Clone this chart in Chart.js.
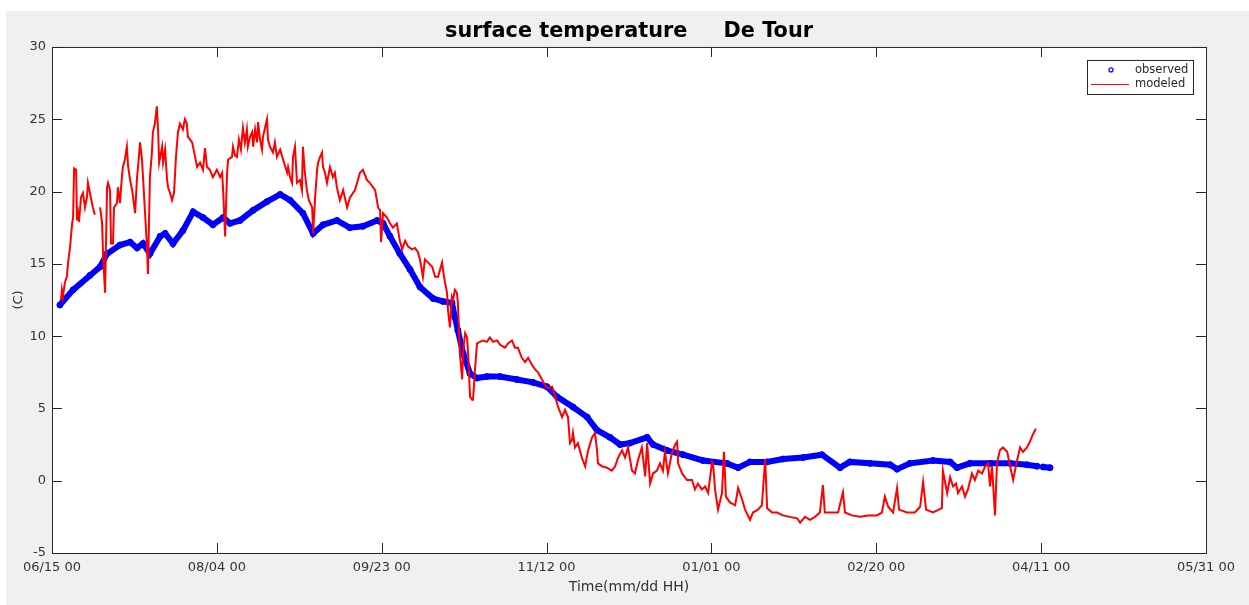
<!DOCTYPE html>
<html>
<head>
<meta charset="utf-8">
<title>surface temperature De Tour</title>
<script src="https://cdn.jsdelivr.net/npm/chart.js@4/dist/chart.umd.min.js"></script>
<style>
    html, body { margin: 0; padding: 0; background: #fff; }
    canvas { display: block; }
</style>
</head>
<body>
<canvas id="chart" width="1249" height="605"></canvas>
<script>
'use strict';

// days since 06/15 00
let tickLabels = ['06/15 00', '08/04 00', '09/23 00', '11/12 00', '01/01 00', '02/20 00', '04/11 00', '05/31 00'];

let obsDays = [2.4, 6.4, 11.5, 14.6, 16.7, 20.6, 23.7, 25.8, 27.6, 29.7, 32.8, 34.3, 36.7, 39.7, 42.8, 45.8, 48.8,
    51.9, 54.0, 57.0, 61.0, 65.2, 69.2, 72.2, 76.1, 79.2, 82.2, 86.4, 90.3, 94.3, 98.6, 100.4, 102.5, 105.5, 108.6,
    111.6, 115.6, 118.6, 121.3, 122.2, 123.1, 124.7, 126.8, 128.9, 131.9, 135.9, 141.0, 145.9, 150.1, 153.2, 158.0,
    162.3, 165.3, 169.2, 172.3, 175.3, 180.5, 182.3, 186.5, 191.4, 197.4, 204.7, 208.1, 211.7, 216.9, 221.7, 227.8,
    233.5, 239.0, 242.0, 248.1, 254.2, 256.3, 260.2, 267.2, 272.4, 274.5, 278.4, 284.5, 290.6, 295.7, 298.8, 299.7,
    300.6, 302.7];
let obsTemps = [12.15, 13.2, 14.2, 14.8, 15.7, 16.3, 16.5, 16.1, 16.4, 15.7, 16.9, 17.1, 16.4, 17.3, 18.6, 18.2, 17.7,
    18.2, 17.8, 18.0, 18.7, 19.3, 19.8, 19.4, 18.5, 17.1, 17.7, 18.0, 17.5, 17.6, 18.0, 17.8, 16.9, 15.7, 14.6,
    13.4, 12.6, 12.4, 12.3, 11.3, 10.4, 8.8, 7.4, 7.1, 7.2, 7.2, 7.0, 6.8, 6.5, 5.8, 5.1,
    4.4, 3.5, 3.0, 2.5, 2.6, 3.0, 2.5, 2.1, 1.8, 1.4, 1.2, 0.9, 1.3, 1.3, 1.5, 1.6,
    1.8, 0.9, 1.3, 1.2, 1.1, 0.8, 1.2, 1.4, 1.3, 0.9, 1.2, 1.2, 1.2, 1.1, 1.0, null,
    0.95, 0.9];

let modDays = [2.7, 3.0, 3.3, 3.9, 4.5, 4.9, 5.5, 6.1, 6.4, 6.7, 7.3, 7.6, 7.9, 8.2, 8.8, 9.4, 10.0, 10.6, 10.9, 11.5,
    12.4, 13.0, 13.8, 14.6, 15.2, 15.5, 16.1, 16.7, 17.0, 17.6, 17.9, 18.5, 18.8, 19.7, 20.0, 20.6, 21.2, 21.5, 22.1,
    22.7, 23.1, 23.7, 24.3, 24.6, 25.2, 25.8, 26.1, 26.7, 27.3, 27.6, 28.8, 29.1, 29.7, 30.3, 30.6, 31.2, 31.8, 32.2,
    32.5, 33.4, 33.7, 34.3, 34.9, 35.2, 35.8, 36.4, 37.0, 37.6, 38.2, 38.8, 39.7, 40.3, 40.9, 41.2, 42.5, 43.4, 44.0,
    44.9, 45.8, 46.4, 47.0, 47.9, 48.8, 50.0, 51.0, 51.6, 51.9, 52.5, 53.1, 53.4, 54.6, 54.9, 55.5, 56.1, 56.7, 57.3,
    57.9, 58.5, 59.1, 59.4, 60.1, 60.7, 61.0, 61.6, 62.2, 62.5, 63.1, 63.7, 64.0, 65.2, 65.5, 66.1, 67.0, 67.6, 68.2,
    69.2, 70.1, 71.3, 71.6, 72.2, 72.8, 73.1, 73.7, 74.3, 75.2, 75.8, 76.1, 76.7, 77.3, 77.9, 78.9, 79.2, 79.8, 80.4,
    80.7, 81.3, 81.9, 82.2, 82.8, 83.4, 84.3, 85.2, 85.8, 86.4, 87.3, 88.3, 89.5, 90.4, 91.9, 93.4, 94.3, 95.5, 96.4,
    98.0, 98.9, 99.5, 99.8, 100.4, 101.6, 102.5, 103.4, 104.6, 105.5, 106.2, 107.1, 108.0, 109.2, 110.1, 111.0, 111.6,
    112.5, 113.1, 114.0, 115.3, 116.2, 117.1, 118.3, 118.9, 119.8, 120.1, 120.7, 121.3, 121.6, 122.2, 122.8, 123.1,
    123.7, 124.4, 124.7, 125.3, 125.9, 126.2, 126.8, 127.4, 127.7, 128.3, 128.9, 129.8, 130.7, 131.9, 132.8, 133.8,
    135.0, 135.9, 137.4, 138.3, 139.5, 140.4, 141.3, 142.5, 143.5, 144.4, 145.6, 146.5, 147.4, 148.6, 149.5, 150.4,
    151.7, 152.6, 153.5, 154.7, 155.6, 156.5, 157.1, 157.7, 158.0, 158.6, 159.5, 160.7, 161.7, 162.6, 163.8, 164.7,
    165.3, 165.6, 166.8, 168.3, 169.8, 170.8, 171.7, 172.9, 173.8, 174.7, 175.9, 176.8, 177.7, 178.9, 179.9, 180.5,
    181.4, 182.3, 183.5, 184.4, 185.3, 185.9, 186.8, 188.0, 189.0, 189.6, 189.9, 191.1, 192.6, 194.1, 195.0, 195.9,
    197.1, 198.1, 199.0, 200.2, 200.5, 201.1, 202.0, 203.2, 203.8, 204.4, 205.6, 207.2, 208.1, 209.3, 210.2, 211.7,
    212.6, 214.1, 215.3, 216.3, 216.9, 218.4, 219.9, 221.7, 223.8, 226.0, 226.9, 228.4, 229.9, 231.4, 232.9, 233.8,
    234.4, 236.6, 238.4, 239.9, 240.5, 242.6, 245.1, 247.5, 250.2, 251.7, 252.6, 253.6, 255.1, 256.3, 256.9, 259.3,
    261.7, 263.3, 264.2, 265.1, 267.2, 269.9, 270.2, 271.5, 272.4, 273.3, 274.2, 274.8, 276.0, 276.9, 277.8, 279.0,
    279.9, 280.9, 282.1, 283.0, 283.9, 284.5, 285.1, 286.0, 286.6, 287.5, 288.4, 289.7, 290.6, 291.5, 292.7, 293.6,
    294.5, 295.7, 296.6, 297.5, 298.4];
let modTemps = [12.5, 13.2, 12.7, 13.7, 14.1, 15.1, 16.2, 17.8, 18.2, 21.6, 21.5, 18.0, 18.5, 17.9, 19.6, 19.9, 18.9,
    19.6, 20.6, 19.9, 18.9, 18.4, null, 18.9, 17.8, 15.5, 13.0, 20.3, 20.6, 20.1, 16.4, 16.4, 18.9, 19.2, 20.3, 19.2,
    21.0, 21.7, 22.2, 23.1, 21.7, 20.8, 20.1, 19.6, 18.5, 21.0, 21.7, 23.4, 22.2, 21.0, 16.2, 14.3, 21.0, 22.7, 24.1,
    24.7, 25.9, 24.1, 22.0, 23.1, 22.0, 22.9, 20.8, 20.3, 19.9, 19.4, 19.9, 22.4, 24.1, 24.7, 24.3, 25.0, 24.7, 23.8,
    23.4, 22.4, 21.7, 22.0, 21.5, 23.0, 21.7, 21.5, 21.0, 21.5, 21.0, 21.3, 20.1, 16.9, 21.3, 22.2, 22.4, 23.1, 22.5,
    22.4, 23.6, 22.9, 24.4, 23.4, 24.3, 23.1, 23.8, 24.1, 23.1, 24.3, 23.4, 24.8, 23.6, 22.9, 23.8, 25.0, 23.6, 23.1,
    22.7, 23.4, 22.4, 22.9, 22.2, 21.3, 21.7, 21.0, 20.6, 22.4, 23.1, 20.6, 20.8, 20.1, 23.1, 21.3, 20.1, 19.4, 18.9,
    17.1, 19.6, 21.5, 22.0, 22.4, 22.7, 21.7, 21.3, 20.6, 21.7, 21.0, 21.3, 20.3, 19.4, 20.1, 18.9, 19.6, 20.1, 21.3,
    21.5, 20.8, 20.6, 20.1, 18.9, 18.7, 16.5, 18.5, 18.2, 17.8, 17.5, 17.8, 16.6, 16.0, 16.6, 16.2, 16.0, 16.1, 15.8,
    15.3, 14.1, 15.3, 15.1, 14.8, 14.1, 14.1, 15.1, 14.1, 13.0, 11.8, 10.6, 12.7, 12.5, 13.2, 13.0, 12.3, 8.8, 7.0,
    9.0, 10.2, 9.9, 8.8, 5.8, 5.6, 5.6, 7.7, 9.5, 9.6, 9.7, 9.6, 9.9, 9.6, 9.7, 9.4, 9.2, 9.5, 9.7, 9.2, 9.2, 8.5, 8.2,
    8.5, 8.0, 7.7, 7.5, 7.0, 6.6, 6.4, 6.5, 5.8, 5.1, 4.4, 4.9, 4.4, 2.6, 2.8, 3.3, 2.3, 2.6, 1.6, 1.0, 2.1, 3.0, 3.3,
    2.1, 1.2, 1.0, 0.9, 0.7, 1.0, 1.6, 2.1, 1.6, 2.3, 0.7, 0.5, 1.4, 2.3, 0.3, 2.6, -0.2, 0.5, 0.7, 1.2, 0.7, 2.0, 0.5,
    1.9, 2.5, 2.7, 1.2, 0.5, 0.05, 0.05, -0.6, -0.2, -0.6, -0.4, -0.85, 1.3, 1.2, -0.6, -2.0, -0.85, 2.0, -1.1, -1.5,
    -1.7, -0.5, -1.3, -2.0, -2.7, -2.2, -2.0, -1.7, 1.5, -1.9, -2.2, -2.2, -2.4, -2.5, -2.6, -2.9, -2.5, -2.7, -2.5,
    -2.2, -0.3, -2.2, -2.2, -2.2, -0.8, -2.2, -2.4, -2.5, -2.4, -2.4, -2.2, -1.1, -1.8, -2.2, -0.5, -2.0, -2.2, -2.2,
    -1.8, -0.1, -2.0, -2.2, -1.9, 0.7, -0.85, 0.25, -0.4, -0.2, -0.85, -0.4, -1.1, -0.6, 0.5, 0.05, 0.7, 0.5, 1.0,
    1.2, -0.4, 1.0, -2.4, 1.2, 2.1, 2.3, 2.0, 1.0, 0.05, 1.4, 2.3, 2.0, 2.3, 2.7, 3.2, 3.6];

let axisColor = '#262626',
    fontFamily = "'DejaVu Sans', sans-serif";

function toPoints(days, temps) {
    return days.map(function (d, i) { return { x: d, y: temps[i] }; });
}

// grey figure background, white axes
let figurePlugin = {
    id: 'figure',
    beforeDraw: function (chart) {
        var ctx = chart.ctx, a = chart.chartArea;
        ctx.save();
        ctx.fillStyle = '#fff';
        ctx.fillRect(0, 0, chart.width, chart.height);
        ctx.fillStyle = '#f0f0f0';
        ctx.fillRect(6, 11, chart.width - 6, chart.height - 11);
        ctx.fillStyle = '#fff';
        ctx.fillRect(a.left, a.top, a.right - a.left, a.bottom - a.top);
        ctx.restore();
    },
    afterDatasetsDraw: function (chart) {
        var ctx = chart.ctx, a = chart.chartArea,
            xs = chart.scales.x, ys = chart.scales.y, len = 10;
        ctx.save();
        ctx.strokeStyle = axisColor;
        ctx.lineWidth = 1;
        ctx.beginPath();
        xs.ticks.forEach(function (t) {
            var px = Math.round(xs.getPixelForValue(t.value)) + 0.5;
            ctx.moveTo(px, a.bottom); ctx.lineTo(px, a.bottom - len);
            ctx.moveTo(px, a.top); ctx.lineTo(px, a.top + len);
        });
        ys.ticks.forEach(function (t) {
            var py = Math.round(ys.getPixelForValue(t.value)) + 0.5;
            ctx.moveTo(a.left, py); ctx.lineTo(a.left + len, py);
            ctx.moveTo(a.right, py); ctx.lineTo(a.right - len, py);
        });
        ctx.stroke();
        ctx.strokeRect(a.left + 0.5, a.top + 0.5, a.right - a.left, a.bottom - a.top);
        drawLegend(chart);
        ctx.restore();
    }
};

function drawLegend(chart) {
    var ctx = chart.ctx, a = chart.chartArea,
        sets = chart.data.datasets,
        w = 106, h = 34,
        x = a.right - 13 - w, y = a.top + 13;

    ctx.fillStyle = '#fff';
    ctx.fillRect(x, y, w, h);
    ctx.strokeStyle = axisColor;
    ctx.strokeRect(x + 0.5, y + 0.5, w, h);

    ctx.font = '11.5px ' + fontFamily;
    ctx.textBaseline = 'middle';
    ctx.textAlign = 'left';

    // observed marker
    ctx.strokeStyle = sets[0].borderColor;
    ctx.lineWidth = 1.2;
    ctx.beginPath();
    ctx.arc(x + 24, y + 10, 2, 0, Math.PI * 2);
    ctx.stroke();
    ctx.fillStyle = axisColor;
    ctx.fillText(sets[0].label, x + 48, y + 10);

    // modeled line
    ctx.strokeStyle = sets[1].borderColor;
    ctx.lineWidth = 1;
    ctx.beginPath();
    ctx.moveTo(x + 4, y + 24.5);
    ctx.lineTo(x + 42, y + 24.5);
    ctx.stroke();
    ctx.fillText(sets[1].label, x + 48, y + 24);
}

function drawChart() {
    var ctx = document.getElementById('chart').getContext('2d');

    new Chart(ctx, {
        type: 'line',
        data: {
            datasets: [
                {
                    label: 'observed',
                    data: toPoints(obsDays, obsTemps),
                    borderColor: '#0000ff',
                    backgroundColor: '#0000ff',
                    borderWidth: 6,
                    pointRadius: 3,
                    pointBorderWidth: 1,
                    pointBackgroundColor: '#0000ff',
                    spanGaps: false,
                    order: 2
                },
                {
                    label: 'modeled',
                    data: toPoints(modDays, modTemps),
                    borderColor: '#ff0000',
                    borderWidth: 2,
                    pointRadius: 0,
                    spanGaps: false,
                    order: 1
                }
            ]
        },
        options: {
            responsive: false,
            animation: false,
            layout: { padding: { left: 0, right: 43, top: 0, bottom: 0 } },
            plugins: {
                legend: { display: false },
                tooltip: { enabled: false },
                title: {
                    display: true,
                    fullSize: false,
                    text: 'surface temperature     De Tour',
                    color: '#000',
                    font: { family: fontFamily, size: 20.8, weight: 'bold', lineHeight: 1.2 },
                    padding: { top: 19, bottom: 3 }
                }
            },
            scales: {
                x: {
                    type: 'linear',
                    min: 0,
                    max: 350,
                    grid: { display: false, drawTicks: false },
                    border: { display: false },
                    ticks: {
                        stepSize: 50,
                        padding: 7,
                        maxRotation: 0,
                        color: '#333',
                        font: { family: fontFamily, size: 13 },
                        callback: function (value) { return tickLabels[value / 50]; }
                    },
                    title: {
                        display: true,
                        text: 'Time(mm/dd HH)',
                        color: '#333',
                        font: { family: fontFamily, size: 14 },
                        padding: { top: 0, bottom: 9 }
                    },
                    afterFit: function (scale) { scale.height = 52; }
                },
                y: {
                    min: -5,
                    max: 30,
                    grid: { display: false, drawTicks: false },
                    border: { display: false },
                    ticks: {
                        stepSize: 5,
                        padding: 6,
                        color: '#333',
                        font: { family: fontFamily, size: 13 }
                    },
                    title: {
                        display: true,
                        text: '(C)',
                        color: '#333',
                        font: { family: fontFamily, size: 13 },
                        padding: { top: 11, bottom: 0 }
                    },
                    afterFit: function (scale) { scale.width = 52; }
                }
            }
        },
        plugins: [figurePlugin]
    });
}

drawChart();
</script>
</body>
</html>
